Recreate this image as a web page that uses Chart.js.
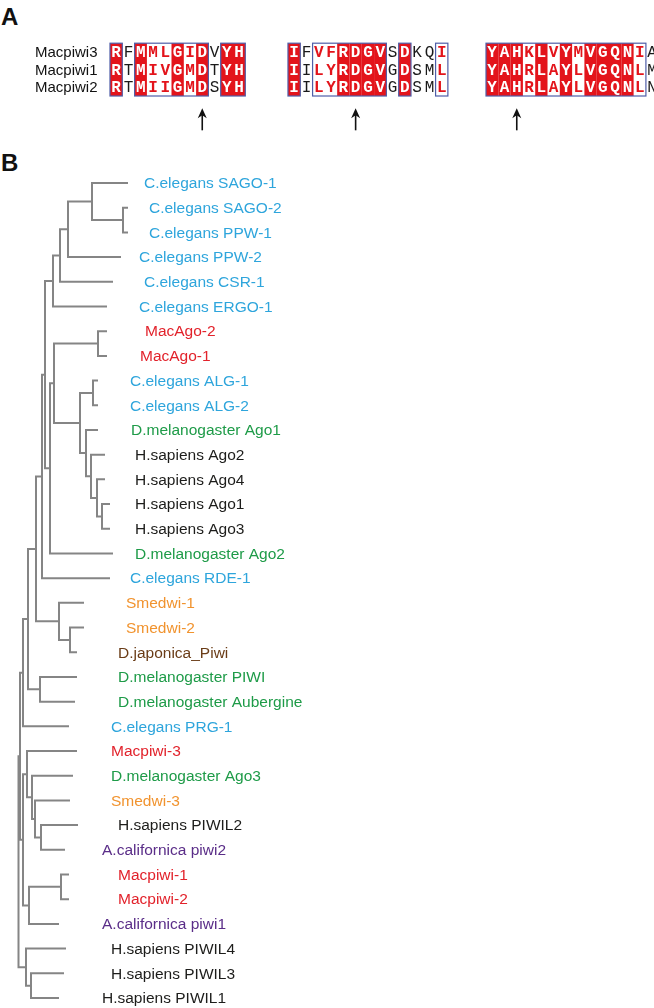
<!doctype html>
<html lang="en">
<head>
<meta charset="utf-8">
<title>Macpiwi alignment and Argonaute/Piwi tree</title>
<script src="https://cdn.jsdelivr.net/npm/chart.js@4"></script>
<style>
  html, body { margin: 0; padding: 0; background: #fff; }
  body { width: 654px; height: 1008px; position: relative; overflow: hidden; font-family: "Liberation Sans", Arial, sans-serif; }
  .panel { position: absolute; left: 1px; font-weight: bold; font-size: 24px; line-height: 28px; color: #111; }
  #wrapA { position: absolute; left: 0; top: 0; width: 654px; height: 145px; }
  #wrapB { position: absolute; left: 0; top: 150px; width: 654px; height: 858px; }
</style>
</head>
<body>
<div class="panel" style="top:3px">A</div>
<div class="panel" style="top:149px">B</div>
<div id="wrapA"><canvas id="align" width="654" height="145"></canvas></div>
<div id="wrapB"><canvas id="tree" width="654" height="858"></canvas></div>
<script>
// ---------- panel A: alignment ----------
const rowNames = ["Macpiwi3", "Macpiwi1", "Macpiwi2"];
const seqMacpiwi3 = ["RFMMLGIDVYH", "IFVFRDGVSDKQI", "YAHKLVYMVGQNIAT"];
const seqMacpiwi1 = ["RTMIVGMDTYH", "IILYRDGVGDSML", "YAHRLAYLVGQNLMI"];
const seqMacpiwi2 = ["RTMIIGMDSYH", "IILYRDGVGDSML", "YAHRLAYLVGQNLNI"];
// R = strictly conserved, s = similar, . = not conserved
const columnClass = ["R.RssRsR.RR", "R.ssRRRR.R..s", "RRRsRsRsRRRRs.."];
const boxedRuns = [[[0, 0], [2, 7], [9, 10]], [[0, 0], [2, 7], [9, 9], [12, 12]], [[0, 12]]];
const segmentStart = [0, 14.47, 30.57];   // in alignment columns
const arrowAt = [[0, 7], [1, 5], [2, 2]];  // [segment, column]

// ---------- panel B: tree ----------
const leafNames = [
  "C.elegans SAGO-1", "C.elegans SAGO-2", "C.elegans PPW-1", "C.elegans PPW-2", "C.elegans CSR-1",
  "C.elegans ERGO-1", "MacAgo-2", "MacAgo-1", "C.elegans ALG-1", "C.elegans ALG-2",
  "D.melanogaster Ago1", "H.sapiens Ago2", "H.sapiens Ago4", "H.sapiens Ago1", "H.sapiens Ago3",
  "D.melanogaster Ago2", "C.elegans RDE-1", "Smedwi-1", "Smedwi-2", "D.japonica_Piwi",
  "D.melanogaster PIWI", "D.melanogaster Aubergine", "C.elegans PRG-1", "Macpiwi-3", "D.melanogaster Ago3",
  "Smedwi-3", "H.sapiens PIWIL2", "A.californica piwi2", "Macpiwi-1", "Macpiwi-2",
  "A.californica piwi1", "H.sapiens PIWIL4", "H.sapiens PIWIL3", "H.sapiens PIWIL1"
];
const leafSpecies = [
  "cel", "cel", "cel", "cel", "cel", "cel", "mac", "mac", "cel", "cel",
  "dme", "hsa", "hsa", "hsa", "hsa", "dme", "cel", "sme", "sme", "dja",
  "dme", "dme", "cel", "mac", "dme", "sme", "hsa", "acal", "mac", "mac",
  "acal", "hsa", "hsa", "hsa"
];
// tip depth of each leaf branch
const leafTip = [
  128, 128, 128, 121, 113, 107, 107, 107, 98, 98,
  98, 105, 105, 110, 110, 113, 110, 84, 84, 77,
  77, 75, 69, 77, 73, 70, 78, 65, 69, 69,
  59, 66, 64, 59
];
// internal nodes: depth and children (numbers = leaves, strings = internal nodes)
const nodeIds = [
  "sagoPpw1", "sago", "ppw", "csr", "wago", "macAgo", "alg", "hs13", "hs413", "hsAgo",
  "agoDm1", "algAgo", "agoCore", "agoDm2", "agoWago", "agoAll", "smedDj", "smed", "agoSmed", "piwiAub",
  "mid1", "prg", "piwil2", "ago3a", "ago3b", "ago3c", "macpiwi12", "acal1", "piwiLow", "upper",
  "piwil31", "piwil4", "root"
];
const nodeDepth = [
  123, 92, 68, 60, 53, 98, 93, 102, 97, 91,
  86, 80, 54, 50, 45, 42, 70, 59, 36, 40,
  28, 23, 41, 35, 32, 27, 61, 29, 23, 20,
  31, 26, 18.5
];
const nodeKids = [
  [1, 2], [0, "sagoPpw1"], ["sago", 3], ["ppw", 4], ["csr", 5], [6, 7], [8, 9], [13, 14], [12, "hs13"], [11, "hs413"],
  [10, "hsAgo"], ["alg", "agoDm1"], ["macAgo", "algAgo"], ["agoCore", 15], ["wago", "agoDm2"], ["agoWago", 16], [18, 19], [17, "smedDj"], ["agoAll", "smed"], [20, 21],
  ["agoSmed", "piwiAub"], ["mid1", 22], [26, 27], [25, "piwil2"], [24, "ago3a"], [23, "ago3b"], [28, 29], ["macpiwi12", 30], ["ago3c", "acal1"], ["prg", "piwiLow"],
  [32, 33], [31, "piwil31"], ["upper", "piwil4"]
];

// layout / style
const labelAt = [
  144, 149, 149, 139, 144, 139, 145, 140, 130, 130,
  131, 135, 135, 135, 135, 135, 130, 126, 126, 118,
  118, 118, 111, 111, 111, 111, 118, 102, 118, 118,
  102, 111, 111, 102
];
const speciesColor = { cel: "#2ea5dc", mac: "#e2222b", dme: "#1e9b48", sme: "#f1932e", dja: "#6a3c17", hsa: "#1d1d1b", acal: "#5a2d88" };
const RED = "#e3141b";
const BOX = "#4f5ea8";

// ---------- panel A chart ----------
const colW = 12.3, col0 = 110, rowH = 17.6, row0 = 52;
const alignPlugin = {
  id: "alignment",
  afterDraw(chart) {
    const { ctx, scales: { x, y } } = chart;
    const seqs = [seqMacpiwi3, seqMacpiwi1, seqMacpiwi2];
    const top = y.getPixelForValue(-0.5), bot = y.getPixelForValue(rowNames.length - 0.5);
    ctx.save();
    ctx.textAlign = "center";
    ctx.textBaseline = "middle";
    segmentStart.forEach((s, k) => {
      const cls = columnClass[k];
      for (let c = 0; c < seqs[0][k].length; c++) {
        const x0 = x.getPixelForValue(s + c), x1 = x.getPixelForValue(s + c + 1);
        const kind = cls[c] || ".";
        if (kind === "R") {
          ctx.fillStyle = RED;
          ctx.fillRect(x0, top, x1 - x0, bot - top);
        }
        seqs.forEach((seq, r) => {
          const ch = seq[k][c];
          if (kind === "R") { ctx.fillStyle = "#fff"; ctx.font = 'bold 16px "Liberation Mono", monospace'; }
          else if (kind === "s") { ctx.fillStyle = RED; ctx.font = 'bold 16px "Liberation Mono", monospace'; }
          else { ctx.fillStyle = "#1a1a1a"; ctx.font = '16px "Liberation Mono", monospace'; }
          ctx.fillText(ch, (x0 + x1) / 2, y.getPixelForValue(r) + 1);
        });
      }
      ctx.strokeStyle = BOX;
      ctx.lineWidth = 1.2;
      boxedRuns[k].forEach(([a, b]) => {
        const x0 = x.getPixelForValue(s + a), x1 = x.getPixelForValue(s + b + 1);
        ctx.strokeRect(x0, top, x1 - x0, bot - top);
      });
    });
    // sequence names
    ctx.textAlign = "left";
    ctx.fillStyle = "#111";
    ctx.font = '15px "Liberation Sans", Arial, sans-serif';
    rowNames.forEach((n, r) => ctx.fillText(n, x.getPixelForValue(-6.1), y.getPixelForValue(r) + 1));
    // catalytic-residue arrows
    ctx.strokeStyle = "#111";
    ctx.fillStyle = "#111";
    ctx.lineWidth = 1.6;
    arrowAt.forEach(([k, c]) => {
      const ax = x.getPixelForValue(segmentStart[k] + c + 0.5);
      const yTip = y.getPixelForValue(3.2), yEnd = y.getPixelForValue(4.45);
      ctx.beginPath();
      ctx.moveTo(ax, yEnd);
      ctx.lineTo(ax, yTip + 6);
      ctx.stroke();
      ctx.beginPath();
      ctx.moveTo(ax, yTip);
      ctx.lineTo(ax - 4.5, yTip + 10);
      ctx.lineTo(ax, yTip + 7);
      ctx.lineTo(ax + 4.5, yTip + 10);
      ctx.closePath();
      ctx.fill();
    });
    ctx.restore();
  }
};

new Chart(document.getElementById("align"), {
  type: "scatter",
  data: { datasets: [] },
  options: {
    responsive: false,
    animation: false,
    events: [],
    layout: { padding: 0 },
    plugins: { legend: { display: false }, tooltip: { enabled: false } },
    scales: {
      x: { type: "linear", display: false, min: -col0 / colW, max: (654 - col0) / colW },
      y: { type: "linear", display: false, reverse: true, min: -row0 / rowH, max: (145 - row0) / rowH }
    }
  },
  plugins: [alignPlugin]
});

// ---------- panel B chart ----------
const leafY = leafNames.map((_, i) => i);
const nodeIndex = Object.fromEntries(nodeIds.map((id, i) => [id, i]));
function yOf(ref) {
  if (typeof ref === "number") return leafY[ref];
  const [a, b] = nodeKids[nodeIndex[ref]];
  return (yOf(a) + yOf(b)) / 2;
}
function depthOf(ref) {
  return typeof ref === "number" ? leafTip[ref] : nodeDepth[nodeIndex[ref]];
}
const branchSets = nodeIds.map((id, i) => {
  const [a, b] = nodeKids[i];
  const ya = yOf(a), yb = yOf(b), d = nodeDepth[i];
  return {
    label: id,
    data: [{ x: depthOf(a), y: ya }, { x: d, y: ya }, { x: d, y: yb }, { x: depthOf(b), y: yb }],
    showLine: true,
    borderColor: "#858585",
    borderWidth: 2,
    pointRadius: 0,
    tension: 0,
    borderJoinStyle: "miter"
  };
});

const leafLabels = {
  id: "leafLabels",
  afterDatasetsDraw(chart) {
    const { ctx, scales: { x, y } } = chart;
    ctx.save();
    ctx.font = '15.5px "Liberation Sans", Arial, sans-serif';
    ctx.textBaseline = "middle";
    leafNames.forEach((n, i) => {
      ctx.fillStyle = speciesColor[leafSpecies[i]];
      ctx.fillText(n, x.getPixelForValue(labelAt[i]), y.getPixelForValue(leafY[i]) + 1);
    });
    ctx.restore();
  }
};

const treeTop = 150, firstLeaf = 183, lastLeaf = 998, treeH = 858;
const step = (lastLeaf - firstLeaf) / (leafNames.length - 1);
new Chart(document.getElementById("tree"), {
  type: "scatter",
  data: { datasets: branchSets },
  options: {
    responsive: false,
    animation: false,
    events: [],
    layout: { padding: 0 },
    plugins: { legend: { display: false }, tooltip: { enabled: false } },
    scales: {
      x: { type: "linear", display: false, min: 0, max: 654 },
      y: {
        type: "linear", display: false, reverse: true,
        min: -(firstLeaf - treeTop) / step,
        max: (leafNames.length - 1) + (treeTop + treeH - lastLeaf) / step
      }
    }
  },
  plugins: [leafLabels]
});
</script>
</body>
</html>
